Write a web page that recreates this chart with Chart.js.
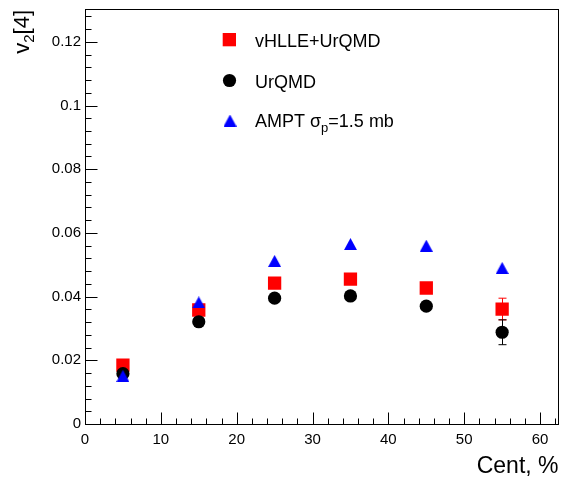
<!DOCTYPE html>
<html>
<head>
<meta charset="utf-8">
<script src="https://cdn.jsdelivr.net/npm/chart.js@4/dist/chart.umd.min.js"></script>
<style>
  html, body { margin: 0; padding: 0; background: #fff; }
  canvas { display: block; }
</style>
</head>
<body>
<canvas id="c" width="562" height="479"></canvas>
<script>
// ---- data ----
const centrality = [5, 15, 25, 35, 45, 55];
const vhlleUrqmd = [0.0185, 0.0358, 0.0442, 0.0455, 0.0427, 0.0361];
const vhlleUrqmdErr = [0, 0, 0, 0, 0, 0.0034];
const urqmd = [0.0158, 0.0321, 0.0395, 0.0402, 0.0370, 0.0288];
const urqmdErr = [0, 0, 0, 0, 0, 0.0039];
const ampt = [0.0151, 0.0382, 0.0512, 0.0565, 0.0560, 0.0490];
const amptErr = [0, 0, 0, 0, 0, 0];
const xTicks = [0, 10, 20, 30, 40, 50, 60];
const yTicks = [0, 0.02, 0.04, 0.06, 0.08, 0.1, 0.12];

const FONT = "'Liberation Sans', Arial, Helvetica, sans-serif";

// triangle marker (bounding-box centred, like ROOT)
const tri = document.createElement('canvas');
tri.width = 13; tri.height = 12;
(function () {
  const t = tri.getContext('2d');
  t.fillStyle = '#0000ff';
  t.beginPath();
  t.moveTo(0, 12); t.lineTo(13, 12); t.lineTo(6.5, 0); t.closePath();
  t.fill();
})();

function pts(ys) { return centrality.map((x, i) => ({ x: x, y: ys[i] })); }

const errSets = [vhlleUrqmdErr, urqmdErr, amptErr];

const framePlugin = {
  id: 'rootFrame',
  beforeDatasetsDraw(chart) {
    const ctx = chart.ctx;
    const xs = chart.scales.x, ys = chart.scales.y;
    ctx.save();
    chart.data.datasets.forEach((ds, di) => {
      const errs = errSets[di];
      ctx.strokeStyle = ds.backgroundColor;
      ctx.lineWidth = 1;
      ds.data.forEach((p, i) => {
        const e = errs[i];
        if (!e) return;
        const px = Math.round(xs.getPixelForValue(p.x)) + 0.5;
        const yt = ys.getPixelForValue(p.y + e);
        const yb = ys.getPixelForValue(p.y - e);
        ctx.beginPath();
        ctx.moveTo(px, yt); ctx.lineTo(px, yb);
        ctx.moveTo(px - 4, yt); ctx.lineTo(px + 4, yt);
        ctx.moveTo(px - 4, yb); ctx.lineTo(px + 4, yb);
        ctx.stroke();
      });
    });
    ctx.restore();
  },
  afterDraw(chart) {
    const ctx = chart.ctx;
    const a = chart.chartArea;
    const xs = chart.scales.x, ys = chart.scales.y;
    const L = Math.round(a.left) + 0.5, R = Math.round(a.right) + 0.5;
    const T = Math.round(a.top) + 0.5, B = Math.round(a.bottom) + 0.5;
    ctx.save();
    // frame
    ctx.strokeStyle = '#000';
    ctx.lineWidth = 1;
    ctx.strokeRect(L, T, R - L, B - T);
    // x ticks (inside), major every 10, minor every 2
    ctx.beginPath();
    for (let v = 0; v <= xs.max + 1e-9; v += 2) {
      const px = Math.round(xs.getPixelForValue(v)) + 0.5;
      const major = Math.abs(v % 10) < 1e-9;
      ctx.moveTo(px, B); ctx.lineTo(px, B - (major ? 12 : 6));
    }
    // y ticks (inside), major every 0.02, minor every 0.004
    for (let k = 0; k * 0.004 <= ys.max + 1e-9; k++) {
      const v = k * 0.004;
      const py = Math.round(ys.getPixelForValue(v)) + 0.5;
      const major = k % 5 === 0;
      ctx.moveTo(L, py); ctx.lineTo(L + (major ? 12 : 6), py);
    }
    ctx.stroke();

    // x title
    ctx.fillStyle = '#000';
    ctx.font = '23px ' + FONT;
    ctx.textAlign = 'right';
    ctx.textBaseline = 'alphabetic';
    ctx.fillText('Cent, %', R, 473);

    // y title v_2[4], rotated
    ctx.save();
    ctx.translate(28.5, 10);
    ctx.rotate(-Math.PI / 2);
    ctx.textAlign = 'right';
    ctx.font = '22px ' + FONT;
    const w3 = ctx.measureText('[4]').width;
    ctx.fillText('[4]', 0, 0);
    ctx.font = '15px ' + FONT;
    const w2 = ctx.measureText('2').width;
    ctx.fillText('2', -w3, 5);
    ctx.font = '22px ' + FONT;
    ctx.fillText('v', -w3 - w2, 0);
    ctx.restore();

    // legend
    ctx.fillStyle = '#ff0000';
    ctx.fillRect(222.7, 33, 13.3, 13.3);
    ctx.fillStyle = '#000';
    ctx.beginPath();
    ctx.arc(229.5, 80.5, 6.6, 0, Math.PI * 2);
    ctx.fill();
    ctx.drawImage(tri, 223.5, 114.5);

    ctx.fillStyle = '#000';
    ctx.textAlign = 'left';
    ctx.textBaseline = 'alphabetic';
    ctx.font = '18px ' + FONT;
    ctx.fillText('vHLLE+UrQMD', 255, 47.3);
    ctx.fillText('UrQMD', 255, 87.5);
    let x = 255;
    const s1 = 'AMPT \u03c3';
    ctx.fillText(s1, x, 127.3);
    x += ctx.measureText(s1).width;
    ctx.font = '13px ' + FONT;
    ctx.fillText('p', x, 131.5);
    x += ctx.measureText('p').width;
    ctx.font = '18px ' + FONT;
    ctx.fillText('=1.5 mb', x, 127.3);
    ctx.restore();
  }
};

new Chart(document.getElementById('c'), {
  type: 'scatter',
  data: {
    datasets: [
      { label: 'vHLLE+UrQMD', data: pts(vhlleUrqmd), pointStyle: 'rect', pointRadius: 9.4,
        backgroundColor: '#ff0000', borderColor: '#ff0000', borderWidth: 0, order: 3 },
      { label: 'UrQMD', data: pts(urqmd), pointStyle: 'circle', pointRadius: 6.6,
        backgroundColor: '#000000', borderColor: '#000000', borderWidth: 0, order: 2 },
      { label: 'AMPT \u03c3p=1.5 mb', data: pts(ampt), pointStyle: tri, pointRadius: 7,
        backgroundColor: '#0000ff', borderColor: '#0000ff', borderWidth: 0, order: 1 }
    ]
  },
  options: {
    responsive: false,
    animation: false,
    devicePixelRatio: 1,
    events: [],
    layout: { autoPadding: false, padding: { top: 9, right: 4.5, left: 0, bottom: 0 } },
    plugins: { legend: { display: false }, tooltip: { enabled: false } },
    scales: {
      x: {
        type: 'linear', min: 0, max: 62.3,
        afterFit(s) { s.height = 55; s.paddingLeft = 0; s.paddingRight = 0; },
        grid: { display: false, drawTicks: false },
        border: { display: false },
        afterBuildTicks(s) { s.ticks = xTicks.map(v => ({ value: v })); },
        ticks: { padding: 7, maxRotation: 0, autoSkip: false, color: '#000',
                 font: { family: FONT, size: 15 }, callback: v => String(v) }
      },
      y: {
        type: 'linear', min: 0, max: 0.1303,
        afterFit(s) { s.width = 85; s.paddingTop = 0; s.paddingBottom = 0; },
        grid: { display: false, drawTicks: false },
        border: { display: false },
        afterBuildTicks(s) { s.ticks = yTicks.map(v => ({ value: v })); },
        ticks: { padding: 4, autoSkip: false, color: '#000',
                 font: { family: FONT, size: 15 }, callback: v => String(+v.toFixed(3)) }
      }
    }
  },
  plugins: [framePlugin]
});
</script>
</body>
</html>
